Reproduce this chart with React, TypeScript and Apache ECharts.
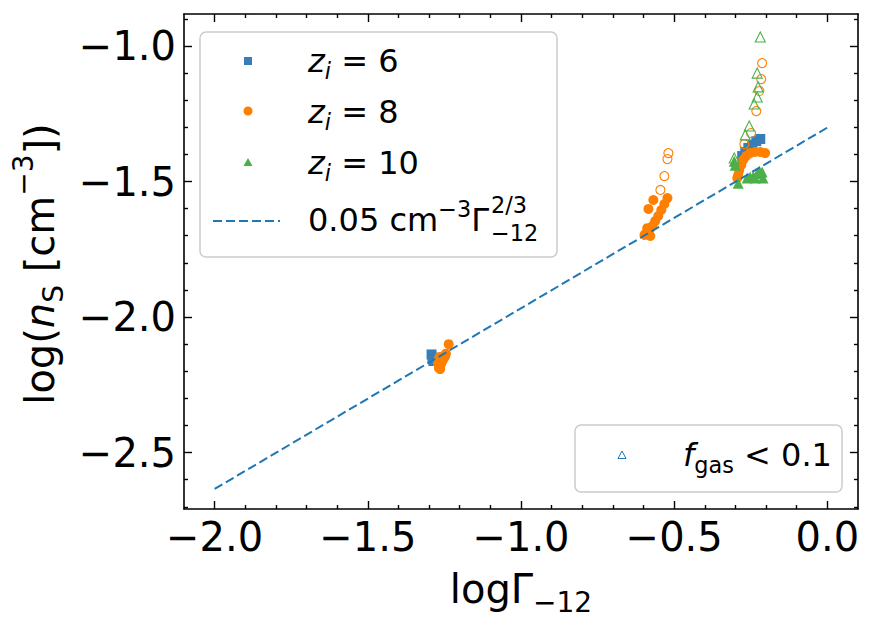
import React, { useEffect, useRef } from 'react';
import * as echarts from 'echarts';

const xMajorTicks = [-2.0, -1.5, -1.0, -0.5, 0.0];
const xMinorTicks = [-1.9, -1.8, -1.7, -1.6, -1.4, -1.3, -1.2, -1.1, -0.9, -0.8, -0.7, -0.6, -0.4, -0.3, -0.2, -0.1];
const yMajorTicks = [-2.5, -2.0, -1.5, -1.0];
const yMinorTicks = [-2.7, -2.6, -2.4, -2.3, -2.2, -2.1, -1.9, -1.8, -1.7, -1.6, -1.4, -1.3, -1.2, -1.1, -0.9];

// z_i = 6 (filled squares)
const z6Points = [
  [-1.292, -2.138], [-1.289, -2.150], [-1.286, -2.162],
  [-0.219, -1.343], [-0.232, -1.351], [-0.245, -1.365], [-0.258, -1.376], [-0.268, -1.391], [-0.278, -1.406],
];
// z_i = 8 (filled circles)
const z8Points = [
  [-1.236, -2.100], [-1.245, -2.135], [-1.248, -2.145], [-1.252, -2.152], [-1.256, -2.160], [-1.259, -2.167],
  [-1.262, -2.174], [-1.265, -2.181], [-1.268, -2.188], [-1.264, -2.192], [-1.271, -2.170], [-1.269, -2.157], [-1.266, -2.147],
  [-0.568, -1.568], [-0.584, -1.601], [-0.522, -1.561], [-0.532, -1.583], [-0.542, -1.605], [-0.552, -1.627],
  [-0.562, -1.646], [-0.571, -1.664], [-0.581, -1.679], [-0.591, -1.690], [-0.597, -1.697], [-0.578, -1.701], [-0.588, -1.672],
  [-0.203, -1.395], [-0.219, -1.391], [-0.236, -1.391], [-0.252, -1.395], [-0.265, -1.406], [-0.275, -1.421],
  [-0.281, -1.439], [-0.288, -1.458], [-0.291, -1.476], [-0.294, -1.487],
];
// z_i = 10 (filled triangles)
const z10Points = [
  [-0.304, -1.425], [-0.301, -1.440], [-0.291, -1.506], [-0.262, -1.487], [-0.252, -1.483], [-0.242, -1.482],
  [-0.236, -1.487], [-0.229, -1.470], [-0.222, -1.462], [-0.213, -1.465], [-0.210, -1.487],
];
// f_gas < 0.1 (open markers)
const z8LowGas = [
  [-0.519, -1.395], [-0.522, -1.417], [-0.532, -1.480], [-0.545, -1.531],
  [-0.213, -1.063], [-0.216, -1.122], [-0.222, -1.166], [-0.232, -1.240], [-0.249, -1.321], [-0.271, -1.362],
];
const z10LowGas = [
  [-0.219, -0.967], [-0.229, -1.100], [-0.226, -1.151], [-0.229, -1.188], [-0.239, -1.214],
  [-0.255, -1.295], [-0.268, -1.328], [-0.304, -1.413],
];
// 0.05 cm^-3 Gamma^(2/3) relation
const fitLine = [[-2.0, -2.634], [0.0, -1.301]];

const X_MIN = -2.1, X_MAX = 0.1, Y_MIN = -2.708, Y_MAX = -0.882;
const FONT = 'DejaVu Sans';
const C6 = '#377eb8', C8 = '#ff7f00', C10 = '#4daf4a', CLINE = '#1f77b4';

const fmt = (v: number) => {
  const s = Math.abs(v).toFixed(1);
  return v < -1e-9 ? '\u2212' + s : s;
};

function mkAxis(kind: 'x' | 'y', position: string, ticks: number[], len: number, showLine: boolean, showLabel: boolean) {
  return {
    type: 'value',
    gridIndex: 0,
    position,
    min: kind === 'x' ? X_MIN : Y_MIN,
    max: kind === 'x' ? X_MAX : Y_MAX,
    axisLine: { show: showLine, onZero: false, lineStyle: { color: '#000', width: 1.6 } },
    axisTick: { show: true, inside: true, length: len, customValues: ticks, lineStyle: { color: '#000', width: 1.4 } },
    axisLabel: {
      show: showLabel, customValues: ticks, formatter: fmt, fontFamily: FONT, fontSize: 40, color: '#000', margin: 8,
    },
    splitLine: { show: false },
    minorTick: { show: false },
  };
}

const t = (fs: number, extra: any = {}) => ({ fontFamily: FONT, fontSize: fs, fill: '#000', ...extra });

export default function App() {
  const ref = useRef<HTMLDivElement>(null);
  useEffect(() => {
    if (!ref.current) return;
    const chart = echarts.init(ref.current, null, { renderer: 'svg' });
    const LF = 32, LS = 22.4;
    chart.setOption({
      animation: false,
      backgroundColor: '#fff',
      grid: { left: 184, right: 17, top: 14, bottom: 119, containLabel: false, outerBoundsMode: 'none' },
      xAxis: [
        mkAxis('x', 'bottom', xMajorTicks, 8, true, true),
        mkAxis('x', 'bottom', xMinorTicks, 4, false, false),
        mkAxis('x', 'top', xMajorTicks, 8, true, false),
        mkAxis('x', 'top', xMinorTicks, 4, false, false),
      ],
      yAxis: [
        mkAxis('y', 'left', yMajorTicks, 8, true, true),
        mkAxis('y', 'left', yMinorTicks, 4, false, false),
        mkAxis('y', 'right', yMajorTicks, 8, true, false),
        mkAxis('y', 'right', yMinorTicks, 4, false, false),
      ],
      series: [
        { type: 'scatter', name: 'z6', data: z6Points, symbol: 'rect', symbolSize: 10, itemStyle: { color: C6, opacity: 1 } },
        { type: 'scatter', name: 'z8', data: z8Points, symbol: 'circle', symbolSize: 10, itemStyle: { color: C8, opacity: 1 } },
        { type: 'scatter', name: 'z10', data: z10Points, symbol: 'triangle', symbolSize: 11, itemStyle: { color: C10, opacity: 1 } },
        { type: 'scatter', name: 'z8low', data: z8LowGas, symbol: 'circle', symbolSize: 9,
          itemStyle: { color: 'rgba(0,0,0,0)', borderColor: C8, borderWidth: 1.1, opacity: 1 } },
        { type: 'scatter', name: 'z10low', data: z10LowGas, symbol: 'triangle', symbolSize: 10,
          itemStyle: { color: 'rgba(0,0,0,0)', borderColor: C10, borderWidth: 1.1, opacity: 1 } },
        { type: 'line', name: 'fit', data: fitLine, symbol: 'none', z: 5,
          lineStyle: { color: CLINE, width: 2, type: [9, 4] } },
      ],
      graphic: [
        // axis names
        { type: 'text', x: 521, y: 589, z: 10, style: {
          text: '{a|log\u0393}{s|\u221212}', align: 'center', verticalAlign: 'middle',
          rich: { a: t(40), s: t(28, { padding: [26, 0, 0, 0] }) } } },
        { type: 'text', x: 40, y: 264, rotation: Math.PI / 2, z: 10, style: {
          text: '{a|log(}{i|n}{s|S}{a| [cm}{p|\u22123}{a|])}', align: 'center', verticalAlign: 'middle',
          rich: { a: t(40), i: t(40, { fontStyle: 'italic' }), s: t(28, { padding: [26, 0, 0, 0] }), p: t(28, { padding: [0, 0, 33, 0] }) } } },
        // legend 1
        { type: 'rect', z: 10, shape: { x: 200, y: 32, width: 357, height: 225, r: 6 },
          style: { fill: 'rgba(255,255,255,0.8)', stroke: '#cccccc', lineWidth: 1.5 } },
        { type: 'rect', z: 11, shape: { x: 244, y: 57, width: 8, height: 8 }, style: { fill: C6 } },
        { type: 'circle', z: 11, shape: { cx: 248, cy: 111, r: 4.5 }, style: { fill: C8 } },
        { type: 'polygon', z: 11, shape: { points: [[248, 158], [252.5, 166], [243.5, 166]] }, style: { fill: C10 } },
        { type: 'line', z: 11, shape: { x1: 213, y1: 221, x2: 280, y2: 221 }, style: { stroke: CLINE, lineWidth: 2, lineDash: [9, 4] } },
        { type: 'text', x: 308, y: 61, z: 11, style: { text: '{i|z}{s|i}{a| = 6}', align: 'left', verticalAlign: 'middle',
          rich: { a: t(LF), i: t(LF, { fontStyle: 'italic' }), s: t(LS, { fontStyle: 'italic', padding: [19, 0, 0, 0] }) } } },
        { type: 'text', x: 308, y: 112, z: 11, style: { text: '{i|z}{s|i}{a| = 8}', align: 'left', verticalAlign: 'middle',
          rich: { a: t(LF), i: t(LF, { fontStyle: 'italic' }), s: t(LS, { fontStyle: 'italic', padding: [19, 0, 0, 0] }) } } },
        { type: 'text', x: 308, y: 163, z: 11, style: { text: '{i|z}{s|i}{a| = 10}', align: 'left', verticalAlign: 'middle',
          rich: { a: t(LF), i: t(LF, { fontStyle: 'italic' }), s: t(LS, { fontStyle: 'italic', padding: [19, 0, 0, 0] }) } } },
        { type: 'text', x: 308, y: 219.5, z: 11, style: { text: '{a|0.05 cm}{p|\u22123}{a|\u0393}', align: 'left', verticalAlign: 'middle',
          rich: { a: t(LF), p: t(LS, { padding: [0, 0, 21, 0] }) } } },
        { type: 'text', x: 491, y: 205, z: 11, style: { text: '2/3', align: 'left', verticalAlign: 'middle', ...t(LS) } },
        { type: 'text', x: 491, y: 233, z: 11, style: { text: '\u221212', align: 'left', verticalAlign: 'middle', ...t(LS) } },
        // legend 2
        { type: 'rect', z: 10, shape: { x: 575, y: 425, width: 267, height: 67, r: 6 },
          style: { fill: 'rgba(255,255,255,0.8)', stroke: '#cccccc', lineWidth: 1.5 } },
        { type: 'polygon', z: 11, shape: { points: [[622, 451], [626, 458.5], [618, 458.5]] },
          style: { fill: 'none', stroke: CLINE, lineWidth: 1 } },
        { type: 'text', x: 683, y: 455, z: 11, style: { text: '{i|f}{s|gas}{a| < 0.1}', align: 'left', verticalAlign: 'middle',
          rich: { a: t(LF), i: t(LF, { fontStyle: 'italic' }), s: t(LS, { padding: [19, 0, 0, 0] }) } } },
      ],
    });
    return () => chart.dispose();
  }, []);
  return <div ref={ref} style={{ width: 875, height: 628, position: 'absolute', left: 0, top: 0 }} />;
}
